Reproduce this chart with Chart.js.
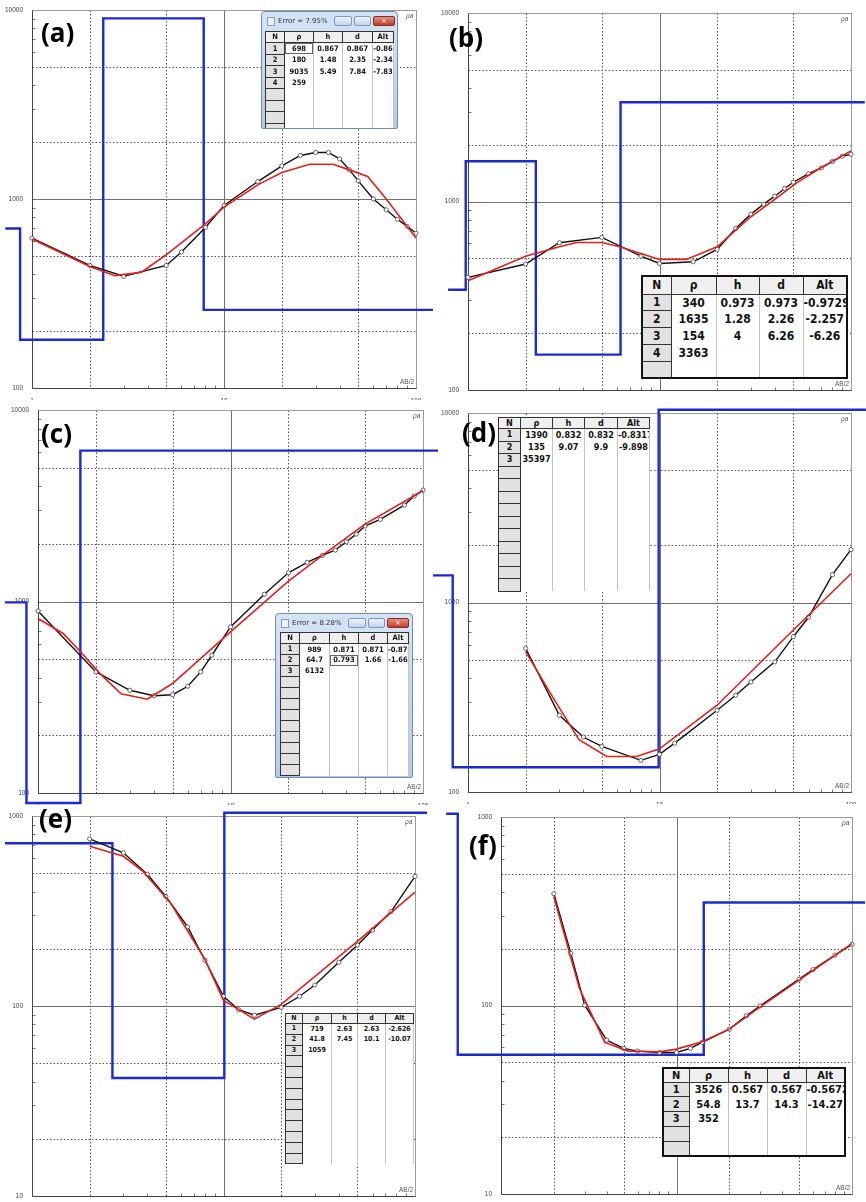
<!DOCTYPE html>
<html>
<head>
<meta charset="utf-8">
<title>VES sounding curves (a)-(f)</title>
<script src="https://cdn.jsdelivr.net/npm/chart.js@4.4.1/dist/chart.umd.min.js"></script>
<style>
  html, body { margin: 0; padding: 0; background: #fff; }
  #fig { position: relative; width: 866px; height: 1202px; overflow: hidden; background: #fff; }
  #fig canvas { position: absolute; }
  .lbl { position: absolute; font-family: "Open Sans", sans-serif; font-weight: 700; font-size: 26px; line-height: 26px; color: #000; }
  .ax { position: absolute; font-family: "Liberation Sans", Arial, sans-serif; font-size: 6.5px; line-height: 7px; color: #555; white-space: nowrap; }
  .ax.rho { font-style: italic; }
  table.vt { position: absolute; border-collapse: collapse; table-layout: fixed; background: #fff;
    font-family: "Liberation Sans Narrow", "DejaVu Sans Condensed", "DejaVu Sans", sans-serif; font-weight: 700; color: #111; }
  table.vt td { padding: 0; text-align: center; white-space: nowrap; overflow: hidden; line-height: 1;
    border-left: 1px solid #c4c4c4; border-right: 1px solid #c4c4c4; box-sizing: border-box; }
  table.vt tr.hd td { background: #efefef; border: 1px solid #333; }
  table.vt td.n { background: #e2e2e2; border: 1px solid #333; }
  table.vt td.sel { box-shadow: inset 0 0 0 1px #666; }
  table.vt.thick { border: 2px solid #111; }
  .win { position: absolute; box-sizing: border-box; border: 1px solid #6f8db5; border-radius: 4px 4px 2px 2px;
    background: linear-gradient(#d5e3f5, #b4cbe7); overflow: hidden; }
  .win .tt { position: absolute; left: 16px; top: 5px; font: 7px "DejaVu Sans", sans-serif; color: #333; white-space: nowrap; }
  .win .ic { position: absolute; left: 5px; top: 5px; width: 6px; height: 7px; border: 1px solid #8a9bb0; background: #eef3f8; }
  .win .b { position: absolute; top: 4px; height: 8px; border: 1px solid #7d98bd; border-radius: 2px; background: linear-gradient(#eef3fa, #c2d4ea); }
  .win .b.x { background: linear-gradient(#e3907f, #c23d2c); border-color: #8b2b20; color: #fff; font: 7px/8px "DejaVu Sans", sans-serif; text-align: center; }
</style>
</head>
<body>
<div id="fig"></div>
<script>
// ---------- (a) ----------
const aObsX = [1, 2, 3, 5, 6, 8, 10, 15, 20, 25, 30, 35, 40, 45, 50, 60, 70, 80, 90, 100];
const aObsY = [621, 445, 390, 445, 524, 707, 924, 1237, 1496, 1700, 1762, 1762, 1630, 1426, 1248, 1000, 877, 781, 716, 659];
const aFitX = [1, 2, 2.7, 3.7, 5, 8, 10, 15, 20, 28, 37, 45, 56, 70, 100];
const aFitY = [614, 440, 393, 409, 507, 739, 906, 1188, 1380, 1528, 1528, 1426, 1315, 1000, 621];
const aRho = [698, 180, 9035, 259];
const aH = [0.867, 1.48, 5.49];
const aD = [0.867, 2.35, 7.84];
const aAlt = ['-0.86', '-2.34', '-7.83'];
const aErr = 'Error = 7.95%';

// ---------- (b) ----------
const bObsX = [1, 2, 3, 5, 8, 10, 15, 20, 25, 30, 35, 40, 45, 50, 60, 70, 80, 90, 100];
const bObsY = [396, 466, 604, 645, 513, 469, 479, 557, 719, 857, 968, 1067, 1172, 1265, 1406, 1507, 1630, 1738, 1782];
const bFitX = [1, 2, 3, 3.7, 5, 6.2, 10, 13.8, 20, 25, 30, 40, 52, 70, 100];
const bFitY = [380, 513, 576, 606, 606, 575, 493, 493, 575, 705, 830, 1025, 1256, 1514, 1856];
const bRho = [340, 1635, 154, 3363];
const bH = [0.973, 1.28, 4];
const bD = [0.973, 2.26, 6.26];
const bAlt = ['-0.9729', '-2.257', '-6.26'];

// ---------- (c) ----------
const cObsX = [1, 2, 3, 4, 5, 6, 7, 8, 10, 15, 20, 25, 30, 35, 40, 45, 50, 60, 80, 90, 100];
const cObsY = [893, 429, 344, 322, 326, 361, 429, 524, 737, 1091, 1412, 1600, 1740, 1854, 2051, 2249, 2477, 2683, 3188, 3552, 3820];
const cFitX = [1, 1.35, 1.65, 2.1, 2.7, 3.7, 5, 10, 20, 30, 50, 100];
const cFitY = [815, 681, 552, 420, 330, 309, 373, 694, 1277, 1740, 2535, 3785];
const cRho = [989, 64.7, 6132];
const cH = [0.871, 0.793];
const cD = [0.871, 1.66];
const cAlt = ['-0.870', '-1.66'];
const cErr = 'Error = 8.28%';

// ---------- (d) ----------
const dObsX = [2, 3, 4, 5, 8, 10, 12, 20, 25, 30, 40, 50, 60, 80, 100];
const dObsY = [573, 254, 195, 174, 147, 158, 181, 270, 324, 381, 486, 660, 836, 1402, 1901];
const dFitX = [2, 2.8, 3.8, 5.3, 7.6, 10, 20, 50, 100];
const dFitY = [550, 311, 189, 154, 154, 169, 287, 716, 1419];
const dRho = [1390, 135, 35397];
const dH = [0.832, 9.07];
const dD = [0.832, 9.9];
const dAlt = ['-0.8317', '-9.898'];

// ---------- (e) ----------
const eObsX = [2, 3, 4, 5, 6.5, 8, 10, 12, 14.5, 20, 25, 30, 40, 50, 60, 75, 100];
const eObsY = [758, 640, 494, 377, 261, 174, 112.5, 95.6, 89.5, 98.4, 112.5, 129, 170, 209, 251, 314, 481];
const eFitX = [2, 3, 3.8, 5.3, 8, 10, 14.5, 20, 50, 100];
const eFitY = [693, 614, 511, 347, 176, 107, 85.3, 102, 219, 397];
const eRho = [719, 41.8, 1059];
const eH = [2.63, 7.45];
const eD = [2.63, 10.1];
const eAlt = ['-2.626', '-10.07'];

// ---------- (f) ----------
const fObsX = [2, 2.5, 3, 4, 5, 6, 8, 10, 12, 14, 20, 25, 30, 50, 60, 80, 100];
const fObsY = [392, 189, 100.4, 65.5, 59.2, 57.3, 56.3, 56.3, 59.2, 63.7, 74.9, 88.2, 99.6, 138, 155, 185, 211];
const fFitX = [2, 2.8, 3.9, 5.3, 8, 10, 14, 20, 30, 100];
const fFitY = [377, 123, 63.7, 57.3, 56.8, 58.7, 64.2, 74.9, 98.4, 213];
const fRho = [3526, 54.8, 352];
const fH = [0.567, 13.7];
const fD = [0.567, 14.3];
const fAlt = ['-0.5672', '-14.27'];

const fig = document.getElementById('fig');
const zip = (xs, ys) => xs.map((x, i) => ({ x, y: ys[i] }));

function logTicks(lo, hi) {
  const out = [];
  for (let e = Math.floor(Math.log10(lo) + 1e-9); Math.pow(10, e) <= hi * 1.0001; e++) {
    for (let m = 1; m <= 9; m++) {
      const v = m * Math.pow(10, e);
      if (v >= lo * 0.9999 && v <= hi * 1.0001) out.push(v);
    }
  }
  return out;
}
const isDecade = v => Math.abs(Math.log10(v) - Math.round(Math.log10(v))) < 1e-9;
const mant = v => Math.round(v / Math.pow(10, Math.floor(Math.log10(v) + 1e-9)));

// step line of the layered model (resistivity vs depth), clipped near the frame like the original
function modelLine(rho, depth, x0, x1, yMin, yMax) {
  const r = rho.map(v => Math.min(yMax * 1.04, Math.max(yMin * 0.886, v)));
  const pts = [{ x: x0, y: r[0] }];
  depth.forEach((d, i) => { pts.push({ x: d, y: r[i] }, { x: d, y: r[i + 1] }); });
  pts.push({ x: x1, y: r[r.length - 1] });
  return pts;
}

const gridPlugin = {
  id: 'vesGrid',
  beforeDatasetsDraw(chart) {
    const { ctx, chartArea: a, scales: { x, y } } = chart;
    const px = v => Math.round(x.getPixelForValue(v)) + 0.5;
    const py = v => Math.round(y.getPixelForValue(v)) + 0.5;
    const L = Math.round(a.left) + 0.5, R = Math.round(a.right) + 0.5;
    const T = Math.round(a.top) + 0.5, B = Math.round(a.bottom) + 0.5;
    const seg = (x1, y1, x2, y2) => { ctx.beginPath(); ctx.moveTo(x1, y1); ctx.lineTo(x2, y2); ctx.stroke(); };
    const xs = logTicks(x.min, x.max).filter(v => v > x.min * 1.001 && v < x.max * 0.999);
    const ys = logTicks(y.min, y.max).filter(v => v > y.min * 1.001 && v < y.max * 0.999);
    ctx.save();
    ctx.lineWidth = 1;
    // dotted lines at 2 and 5
    ctx.strokeStyle = '#555';
    ctx.setLineDash([1.5, 2]);
    xs.filter(v => mant(v) === 2 || mant(v) === 5).forEach(v => seg(px(v), T, px(v), B));
    ys.filter(v => mant(v) === 2 || mant(v) === 5).forEach(v => seg(L, py(v), R, py(v)));
    ctx.setLineDash([]);
    // solid decade lines
    ctx.strokeStyle = '#707070';
    xs.filter(isDecade).forEach(v => seg(px(v), T, px(v), B));
    ys.filter(isDecade).forEach(v => seg(L, py(v), R, py(v)));
    // minor tick marks
    ctx.strokeStyle = '#777';
    xs.filter(v => [3, 4, 6, 7, 8, 9].includes(mant(v))).forEach(v => seg(px(v), B, px(v), B - 3));
    ys.filter(v => [3, 4, 6, 7, 8, 9].includes(mant(v))).forEach(v => seg(L, py(v), L + 3, py(v)));
    // frame
    ctx.strokeStyle = '#9a9a9a';
    ctx.strokeRect(L, T, R - L, B - T);
    ctx.strokeStyle = '#444';
    seg(L, T, L, B);
    seg(L, B, R, B);
    ctx.restore();
  }
};

const tickFont = { size: 6.5, family: 'Liberation Sans' };

function makeChart(p) {
  const [bx, by, bw, bh] = p.box;
  const [L, T, R, B] = p.plot;
  const yW = Math.min(30, L - bx);
  const xH = Math.min(12, by + bh - B);
  const cv = document.createElement('canvas');
  cv.width = bw; cv.height = bh;
  cv.style.left = bx + 'px'; cv.style.top = by + 'px';
  cv.style.width = bw + 'px'; cv.style.height = bh + 'px';
  fig.appendChild(cv);
  const [yMin, yMax] = p.yRange;
  new Chart(cv, {
    type: 'line',
    data: {
      datasets: [
        { data: zip(p.fitX, p.fitY), borderColor: '#e2201c', borderWidth: 1.6, pointRadius: 0 },
        { data: zip(p.obsX, p.obsY), borderColor: '#111', borderWidth: 1.4,
          pointRadius: 2.1, pointBorderWidth: 0.8, pointBorderColor: '#444', pointBackgroundColor: '#fff' },
        { data: modelLine(p.rho, p.depth, p.span[0], p.span[1], yMin, yMax),
          borderColor: '#1c2bd0', borderWidth: 2.4, pointRadius: 0, clip: false }
      ]
    },
    options: {
      responsive: false,
      animation: false,
      events: [],
      layout: { padding: { left: L - bx - yW, top: T - by, right: bx + bw - R, bottom: by + bh - B - xH } },
      plugins: { legend: { display: false }, tooltip: { enabled: false } },
      elements: { line: { tension: 0 } },
      scales: {
        x: {
          type: 'logarithmic',
          afterDataLimits: s => { s.min = 1; s.max = 100; },
          afterBuildTicks: s => { s.ticks = logTicks(1, 100).map(v => ({ value: v })); },
          afterFit: s => { s.height = xH; },
          grid: { display: false }, border: { display: false },
          ticks: { autoSkip: false, maxRotation: 0, minRotation: 0, padding: 1, font: tickFont, color: '#444',
                   callback: v => isDecade(v) ? String(v) : '' }
        },
        y: {
          type: 'logarithmic',
          afterDataLimits: s => { s.min = yMin; s.max = yMax; },
          afterBuildTicks: s => { s.ticks = logTicks(yMin, yMax).map(v => ({ value: v })); },
          afterFit: s => { s.width = yW; },
          grid: { display: false }, border: { display: false },
          ticks: { autoSkip: false, padding: 1, font: tickFont, color: '#444',
                   callback: v => isDecade(v) ? String(v) : '' }
        }
      }
    },
    plugins: [gridPlugin]
  });
}

function addDiv(cls, html, left, top, extra) {
  const d = document.createElement('div');
  d.className = cls;
  d.innerHTML = html;
  d.style.left = left + 'px';
  d.style.top = top + 'px';
  if (extra) Object.assign(d.style, extra);
  fig.appendChild(d);
  return d;
}

function makeTable(p, t) {
  const tb = document.createElement('table');
  tb.className = 'vt' + (t.thick ? ' thick' : '');
  tb.style.fontSize = t.font + 'px';
  tb.style.width = t.cols.reduce((s, w) => s + w, 0) + 'px';
  const cg = document.createElement('colgroup');
  t.cols.forEach(w => { const c = document.createElement('col'); c.style.width = w + 'px'; cg.appendChild(c); });
  tb.appendChild(cg);
  const rows = [['N', 'ρ', 'h', 'd', 'Alt']];
  p.rho.forEach((r, i) => rows.push([i + 1, r, p.h[i] ?? '', p.d[i] ?? '', p.alt[i] ?? '']));
  for (let k = 0; k < t.empty; k++) rows.push(['', '', '', '', '']);
  rows.forEach((r, ri) => {
    const tr = document.createElement('tr');
    if (ri === 0) tr.className = 'hd';
    r.forEach((v, ci) => {
      const td = document.createElement('td');
      td.textContent = String(v);
      td.style.height = (ri === 0 ? t.head : t.row) + 'px';
      if (ci === 0 && ri > 0) td.className = 'n';
      if (t.sel && ri - 1 === t.sel[0] && ci === t.sel[1]) td.classList.add('sel');
      tr.appendChild(td);
    });
    tb.appendChild(tr);
  });
  tb.style.left = t.left + 'px';
  tb.style.top = t.top + 'px';
  if (t.win) {
    const w = addDiv('win', '', t.win.left, t.win.top, { width: t.win.w + 'px', height: t.win.h + 'px' });
    w.innerHTML = '<span class="ic"></span><span class="tt">' + t.win.title + '</span>' +
      '<span class="b" style="left:72px;width:16px"></span><span class="b" style="left:92px;width:15px"></span>' +
      '<span class="b x" style="left:111px;width:20px">×</span>';
    w.appendChild(tb);
  } else {
    fig.appendChild(tb);
  }
}

const panels = [
  { tag: '(a)', tagPos: [41, 19], box: [0, 0, 440, 400], plot: [32, 10, 416, 388], yRange: [100, 10000], span: [0.726, 122.6],
    obsX: aObsX, obsY: aObsY, fitX: aFitX, fitY: aFitY, rho: aRho, h: aH, depth: aD, d: aD, alt: aAlt,
    table: { win: { left: 261, top: 11, w: 137, h: 118, title: aErr }, left: 3, top: 19, cols: [19, 29, 29, 30, 21],
             head: 11, row: 11.5, font: 7.5, empty: 4, sel: [0, 1] } },
  { tag: '(b)', tagPos: [449, 24], box: [433, 0, 433, 400], plot: [468, 13, 851, 390], yRange: [100, 10000], span: [0.787, 118],
    obsX: bObsX, obsY: bObsY, fitX: bFitX, fitY: bFitY, rho: bRho, h: bH, depth: bD, d: bD, alt: bAlt,
    table: { left: 641, top: 275, cols: [29, 45, 43, 44, 44], head: 18, row: 16.8, font: 12, empty: 1, thick: true } },
  { tag: '(c)', tagPos: [41, 420], box: [0, 400, 440, 405], plot: [38, 410, 423, 793], yRange: [100, 10000], span: [0.673, 119.7],
    obsX: cObsX, obsY: cObsY, fitX: cFitX, fitY: cFitY, rho: cRho, h: cH, depth: cD, d: cD, alt: cAlt,
    table: { win: { left: 275, top: 613, w: 138, h: 165, title: cErr }, left: 4, top: 18, cols: [19, 30, 29, 29, 21],
             head: 11, row: 11, font: 7.5, empty: 9, sel: [1, 2] } },
  { tag: '(d)', tagPos: [462, 419], box: [433, 400, 433, 405], plot: [468, 413, 851, 792], yRange: [100, 10000], span: [0.656, 119.7],
    obsX: dObsX, obsY: dObsY, fitX: dFitX, fitY: dFitY, rho: dRho, h: dH, depth: dD, d: dD, alt: dAlt,
    table: { left: 498, top: 417, cols: [22, 32, 32, 33, 32], head: 11, row: 12.5, font: 9, empty: 10 } },
  { tag: '(e)', tagPos: [39, 805], box: [0, 805, 440, 397], plot: [32, 816, 415, 1196], yRange: [10, 1000], span: [0.723, 115.6],
    obsX: eObsX, obsY: eObsY, fitX: eFitX, fitY: eFitY, rho: eRho, h: eH, depth: eD, d: eD, alt: eAlt,
    table: { left: 285, top: 1013, cols: [17, 29, 26, 28, 28], head: 10, row: 10.8, font: 7, empty: 10 } },
  { tag: '(f)', tagPos: [469, 832], box: [433, 805, 433, 397], plot: [501, 817, 852, 1194], yRange: [10, 1000], span: [0.487, 118.6],
    obsX: fObsX, obsY: fObsY, fitX: fFitX, fitY: fFitY, rho: fRho, h: fH, depth: fD, d: fD, alt: fAlt,
    table: { left: 662, top: 1067, cols: [26, 39, 39, 39, 39], head: 14, row: 14.8, font: 11, empty: 2, thick: true } }
];

panels.forEach(makeChart);
panels.forEach(p => {
  const [L, T, R, B] = p.plot;
  addDiv('ax rho', 'ρa', R - 10, T + 2);
  addDiv('ax', 'AB/2', R - 16, B - 10);
  makeTable(p, p.table);
  addDiv('lbl', p.tag, p.tagPos[0], p.tagPos[1]);
});
</script>
</body>
</html>
